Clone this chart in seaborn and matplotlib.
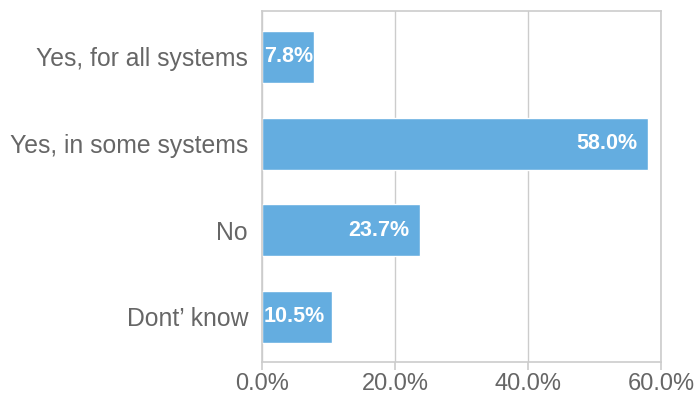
import matplotlib
matplotlib.use("Agg")
import matplotlib.pyplot as plt
import matplotlib.transforms as mtransforms
from matplotlib.ticker import FuncFormatter
import seaborn as sns
import pandas as pd

categories = ["Yes, for all systems", "Yes, in some systems", "No", "Dont’ know"]
values = [7.8, 58.0, 23.7, 10.5]
xticks = [0, 20, 40, 60]

sns.set_theme(style="white")
plt.rcParams['font.family'] = ['Liberation Sans', 'DejaVu Sans']

df = pd.DataFrame({"category": categories, "value": values})

fig = plt.figure(figsize=(6.96, 3.96), dpi=100)
ax = fig.add_axes([262/696, 34/396, 399/696, 351/396])

sns.barplot(data=df, y="category", x="value", order=categories, color="#64ade0",
            saturation=1, width=0.6, ax=ax, orient="h")

ax.set_xlim(0, 60)
ax.set_ylim(3.52, -0.53)
ax.set_xticks(xticks)
ax.xaxis.set_major_formatter(FuncFormatter(lambda v, p: f"{v:.1f}%"))
ax.grid(axis="x", color="#cccccc", linewidth=1)
ax.set_axisbelow(True)
for s in ax.spines.values():
    s.set_color("#cccccc")
    s.set_linewidth(1.2)
ax.set_xlabel("")
ax.set_ylabel("")
ax.tick_params(axis="x", colors="#cccccc", labelcolor="#666666", labelsize=17,
               length=6, width=1.2, direction="out", bottom=True, pad=2)
ax.tick_params(axis="y", labelcolor="#666666", labelsize=17.8, length=0, pad=10)

fig.canvas.draw()
renderer = fig.canvas.get_renderer()
ax_x0 = ax.get_window_extent(renderer).x0
for i, v in enumerate(values):
    off = mtransforms.offset_copy(ax.transData, fig=fig, x=-10, y=0, units="dots")
    t = ax.text(v, i, f"{v:.1f}%", transform=off, ha="right", va="center",
                color="white", fontsize=15.5, fontweight="bold")
    bb = t.get_window_extent(renderer)
    if bb.x0 < ax_x0 + 2:
        t.set_transform(mtransforms.offset_copy(ax.transData, fig=fig, x=2, y=0, units="dots"))
        t.set_x(0)
        t.set_ha("left")

fig.savefig("out.png", dpi=100)
